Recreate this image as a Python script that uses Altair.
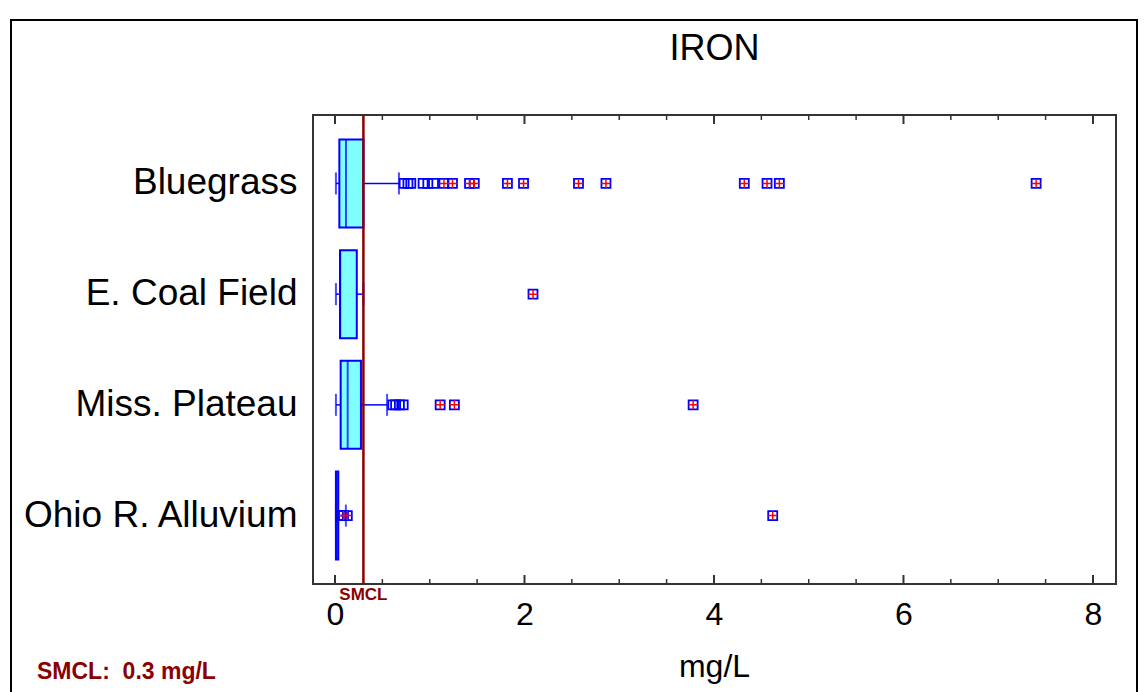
import altair as alt
import pandas as pd

# ---- data ----
categories = ["Bluegrass", "E. Coal Field", "Miss. Plateau", "Ohio R. Alluvium"]
q1 = [0.046, 0.053, 0.060, 0.010]
median = [0.116, 0.055, 0.134, 0.020]
q3 = [0.300, 0.230, 0.274, 0.035]
whisker_low = [0.010, 0.010, 0.010, 0.010]
whisker_high = [0.675, 0.300, 0.550, 0.115]

near_bluegrass = [0.73, 0.77, 0.80, 0.93, 0.98, 1.04]
far_bluegrass = [1.15, 1.24, 1.42, 1.47, 1.82, 1.99, 2.57, 2.86, 4.32, 4.56, 4.69, 7.40]
near_coal = []
far_coal = [2.09]
near_miss = [0.61, 0.64, 0.68, 0.72]
far_miss = [1.11, 1.26, 3.78]
near_ohio = [0.06, 0.075]
far_ohio = [0.09, 0.13, 4.62]

major_ticks = [0, 2, 4, 6, 8]
minor_ticks = [0.5, 1, 1.5, 2.5, 3, 3.5, 4.5, 5, 5.5, 6.5, 7, 7.5]
smcl_value = 0.3
title_text = "IRON"
x_title = "mg/L"
smcl_label = "SMCL"
smcl_note = "SMCL:\u00a0\u00a00.3 mg/L"

# ---- tables ----
boxes = pd.DataFrame({"cat": categories, "q1": q1, "median": median, "q3": q3,
                      "wl": whisker_low, "wh": whisker_high})
near_lists = [near_bluegrass, near_coal, near_miss, near_ohio]
far_lists = [far_bluegrass, far_coal, far_miss, far_ohio]
rows = []
for c, nl, fl in zip(categories, near_lists, far_lists):
    rows += [{"cat": c, "v": v, "far": False} for v in nl]
    rows += [{"cat": c, "v": v, "far": True} for v in fl]
outliers = pd.DataFrame(rows)
far_df = outliers[outliers["far"]]
ticks_df = pd.DataFrame({"t": major_ticks + minor_ticks,
                         "major": [True] * len(major_ticks) + [False] * len(minor_ticks)})
smcl_df = pd.DataFrame({"v": [smcl_value], "label": [smcl_label]})

FONT = "Liberation Sans"
W, H = 803, 469
BLUE = "#0000FF"
DARKRED = "#8B0000"

xscale = alt.Scale(domain=[-0.232, 8.243], nice=False, zero=False)
yscale = alt.Scale(type="band", domain=categories, paddingInner=0, paddingOuter=0.118)

xaxis = alt.Axis(values=major_ticks, format="d", labelFontSize=32, labelFont=FONT,
                 labelColor="black", labelPadding=15, ticks=False, tickSize=0,
                 domain=False, grid=False, title=None)
yaxis = alt.Axis(labelFontSize=37, labelFont=FONT, labelColor="black", labelPadding=16,
                 ticks=False, tickSize=0, domain=False, grid=False, title=None, labelLimit=400)


def X(field):
    return alt.X(f"{field}:Q", scale=xscale, axis=xaxis, title=None)


def X2(field):
    return alt.X2(f"{field}:Q")


Y = alt.Y("cat:N", scale=yscale, axis=yaxis, title=None, sort=categories)

base = alt.Chart(boxes)

low_whisk = base.mark_rule(color=BLUE, strokeWidth=1.5).encode(x=X("wl"), x2=X2("q1"), y=Y)
high_whisk = base.mark_rule(color=BLUE, strokeWidth=1.5).encode(x=X("q3"), x2=X2("wh"), y=Y)
cap_low = base.mark_tick(color=BLUE, size=22, thickness=2).encode(x=X("wl"), y=Y)
cap_high = base.mark_tick(color=BLUE, size=22, thickness=2).encode(x=X("wh"), y=Y)
box = base.mark_bar(size=88, fill="#80FFFF", stroke=BLUE, strokeWidth=2).encode(
    x=X("q1"), x2=X2("q3"), y=Y)
med = base.mark_tick(color=BLUE, size=88, thickness=2).encode(x=X("median"), y=Y)

smcl_line = alt.Chart(smcl_df).mark_rule(color=DARKRED, strokeWidth=2.5).encode(
    x=X("v"), y=alt.value(0), y2=alt.value(H))
smcl_text = alt.Chart(smcl_df).mark_text(font=FONT, fontSize=17, fontWeight="bold",
                                          color=DARKRED, baseline="middle", align="center").encode(
    x=X("v"), y=alt.value(H + 11), text="label:N")

squares = alt.Chart(outliers).mark_point(shape="square", size=81, filled=False,
                                         color=BLUE, strokeWidth=1.8, opacity=1).encode(
    x=X("v"), y=Y)
crosses = alt.Chart(far_df).mark_point(shape="M-1,0L1,0M0,-1L0,1", size=81, filled=False,
                                       color="#FF0000", strokeWidth=1.5, opacity=1).encode(
    x=X("v"), y=Y)

tk = alt.Chart(ticks_df)
top_major = tk.transform_filter("datum.major").mark_rule(color="#333", strokeWidth=2).encode(
    x=X("t"), y=alt.value(0), y2=alt.value(9))
top_minor = tk.transform_filter("!datum.major").mark_rule(color="#333", strokeWidth=1.5).encode(
    x=X("t"), y=alt.value(0), y2=alt.value(5))
bot_major = tk.transform_filter("datum.major").mark_rule(color="#333", strokeWidth=2).encode(
    x=X("t"), y=alt.value(H), y2=alt.value(H - 9))
bot_minor = tk.transform_filter("!datum.major").mark_rule(color="#333", strokeWidth=1.5).encode(
    x=X("t"), y=alt.value(H), y2=alt.value(H - 5))

one = alt.Chart(alt.Data(values=[{}]))
title = one.mark_text(text=title_text, font=FONT, fontSize=36, color="black",
                      align="center", baseline="middle").encode(
    x=alt.value(W / 2), y=alt.value(-66))
xtitle = one.mark_text(text=x_title, font=FONT, fontSize=32, color="black",
                       align="center", baseline="middle").encode(
    x=alt.value(W / 2), y=alt.value(552))
note = one.mark_text(text=smcl_note, font=FONT, fontSize=23, fontWeight="bold", color=DARKRED,
                     align="left", baseline="middle").encode(
    x=alt.value(-276), y=alt.value(557))
border = one.mark_rect(fillOpacity=0, stroke="black", strokeWidth=2).encode(
    x=alt.value(-302), x2=alt.value(824), y=alt.value(-95), y2=alt.value(600))

chart = alt.layer(
    border, low_whisk, high_whisk, cap_low, cap_high, box, med, smcl_line,
    squares, crosses, top_major, top_minor, bot_major, bot_minor,
    smcl_text, title, xtitle, note
).properties(
    width=W, height=H,
    autosize=alt.AutoSizeParams(type="none"),
    padding={"left": 313, "top": 115, "right": 31, "bottom": 108},
    background="white",
).configure_view(stroke="#333", strokeWidth=2)

chart.save("out.html", embed_options={"renderer": "svg", "actions": False})
